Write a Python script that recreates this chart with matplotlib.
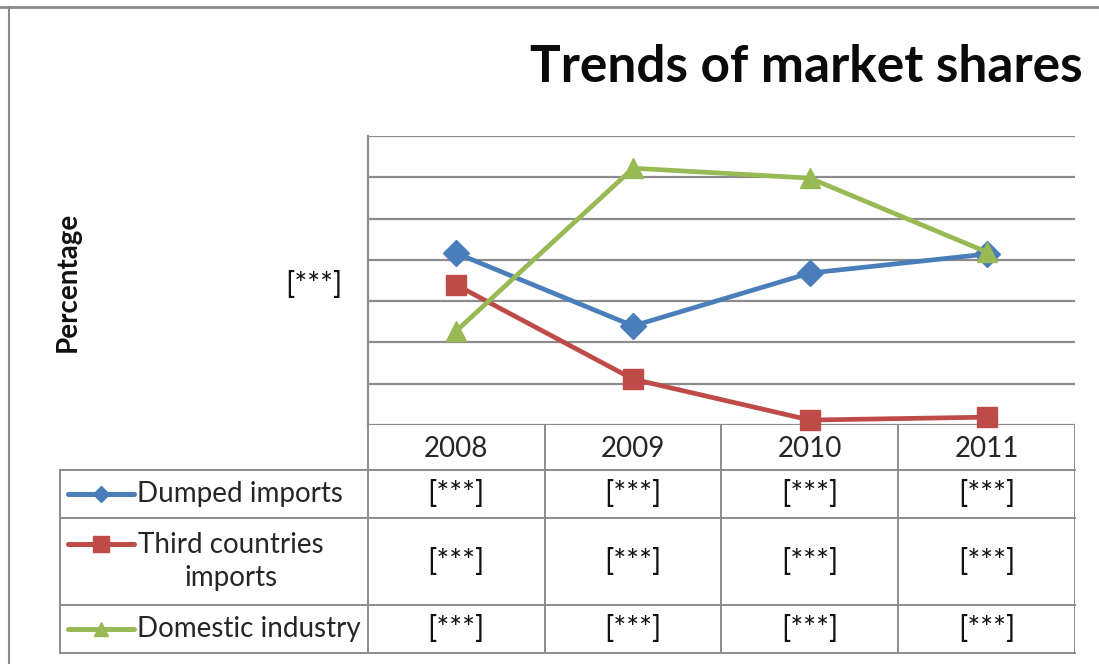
import matplotlib
matplotlib.use("Agg")
import matplotlib.pyplot as plt
from matplotlib.lines import Line2D

# ---- data -------------------------------------------------------------
years = ["2008", "2009", "2010", "2011"]
series_names = ["Dumped imports", "Third countries\nimports", "Domestic industry"]
dumped_imports = [4.16, 2.40, 3.68, 4.14]
third_countries = [3.39, 1.11, 0.12, 0.19]
domestic_industry = [2.28, 6.22, 5.98, 4.19]
table_cells = [["[***]"] * 4, ["[***]"] * 4, ["[***]"] * 4]
ytick_values = [3.39]
ytick_labels = ["[***]"]

colors = ["#4A7EBB", "#BE4B48", "#98B954"]
markers = ["D", "s", "^"]
msizes = [13, 15, 15]
legend_msizes = [8, 12, 10]

W, H = 1099, 664
FONT = ["Lato", "DejaVu Sans"]
plt.rcParams["font.family"] = FONT

fig = plt.figure(figsize=(W / 100, H / 100), dpi=100)
fig.patch.set_facecolor("white")


def fx(px):
    return px / W


def fy(py):
    return 1 - py / H


grid_c = "#8C8C8C"
text_c = "#262626"

# outer frame (top and left)
fig.add_artist(Line2D([fx(0), fx(W)], [fy(7), fy(7)], color="#8A8A8A", lw=2))
fig.add_artist(Line2D([fx(9), fx(9)], [fy(7), fy(664)], color="#8A8A8A", lw=1.5))

# ---- chart ------------------------------------------------------------
L, R, T, B = 368, 1075, 136, 425
ax = fig.add_axes([fx(L), fy(B), fx(R - L), (B - T) / H])
ax.set_xlim(-0.5, len(years) - 0.5)
ax.set_ylim(0, 7)
ax.set_yticks(range(0, 8))
ax.yaxis.grid(True, color=grid_c, lw=1.6)
ax.set_axisbelow(True)
for s in ["top", "right", "bottom"]:
    ax.spines[s].set_visible(False)
ax.spines["left"].set_color(grid_c)
ax.spines["left"].set_linewidth(1.6)
ax.tick_params(axis="both", length=0)
ax.set_xticks([])
ax.set_yticklabels([])
# the single stated y label
for v, lab in zip(ytick_values, ytick_labels):
    ax.annotate(lab, xy=(-0.5, v), xytext=(-26, 0), textcoords="offset pixels",
                ha="right", va="center", fontsize=22, color="#111111",
                annotation_clip=False)

xs = list(range(len(years)))
for vals, c, m, ms in zip([dumped_imports, third_countries, domestic_industry],
                          colors, markers, msizes):
    ax.plot(xs, vals, color=c, lw=3.4, marker=m, markersize=ms,
            markeredgecolor=c, clip_on=False, zorder=3)

# axis title and chart title
fig.text(fx(68), fy(282), "Percentage", rotation=90, ha="center", va="center",
         fontsize=20, fontweight="bold", color="#111111")
fig.text(fx(1083), fy(68), "Trends of market shares", ha="right", va="center",
         fontsize=37, fontweight="bold", color="#0A0A0A")

# ---- data table -------------------------------------------------------
TL, TB = 60, 653
row_edges = [425, 470, 518, 605, 653]
tab = fig.add_axes([fx(TL), fy(TB), fx(R - TL), (TB - B) / H])
tab.set_xlim(TL, R)
tab.set_ylim(TB, B)
tab.axis("off")

col_w = (R - L) / len(years)
col_edges = [L + i * col_w for i in range(len(years) + 1)]
tc = "#8C8C8C"
lw = 1.4

# header row (year cells only)
tab.plot([L, R], [row_edges[1], row_edges[1]], color=tc, lw=lw)
for x in col_edges:
    tab.plot([x, x], [row_edges[0], row_edges[-1]], color=tc, lw=lw)
# body rows
for y in row_edges[1:]:
    tab.plot([TL, R], [y, y], color=tc, lw=lw, clip_on=False)
tab.plot([TL, TL], [row_edges[1], row_edges[-1]], color=tc, lw=lw, clip_on=False)

for i, yr in enumerate(years):
    cx = (col_edges[i] + col_edges[i + 1]) / 2
    tab.text(cx, (row_edges[0] + row_edges[1]) / 2 + 1, yr, ha="center",
             va="center", fontsize=20, color=text_c)

for r, (name, c, m, ms) in enumerate(zip(series_names, colors, markers,
                                         legend_msizes)):
    y0, y1 = row_edges[r + 1], row_edges[r + 2]
    yc = (y0 + y1) / 2
    ly = yc if "\n" not in name else y0 + 26
    tab.plot([68, 134], [ly, ly], color=c, lw=3.6, solid_capstyle="round")
    tab.plot([101], [ly], marker=m, color=c, markersize=ms, markeredgecolor=c)
    if "\n" in name:
        tab.text(231, yc, name, ha="center", va="center", fontsize=20,
                 color=text_c, linespacing=1.3)
    else:
        tab.text(137, yc, name, ha="left", va="center", fontsize=20,
                 color=text_c)
    for i in range(len(years)):
        cx = (col_edges[i] + col_edges[i + 1]) / 2
        tab.text(cx, yc, table_cells[r][i], ha="center", va="center",
                 fontsize=22, color="#111111")

fig.savefig("out.png", dpi=100, facecolor="white")
